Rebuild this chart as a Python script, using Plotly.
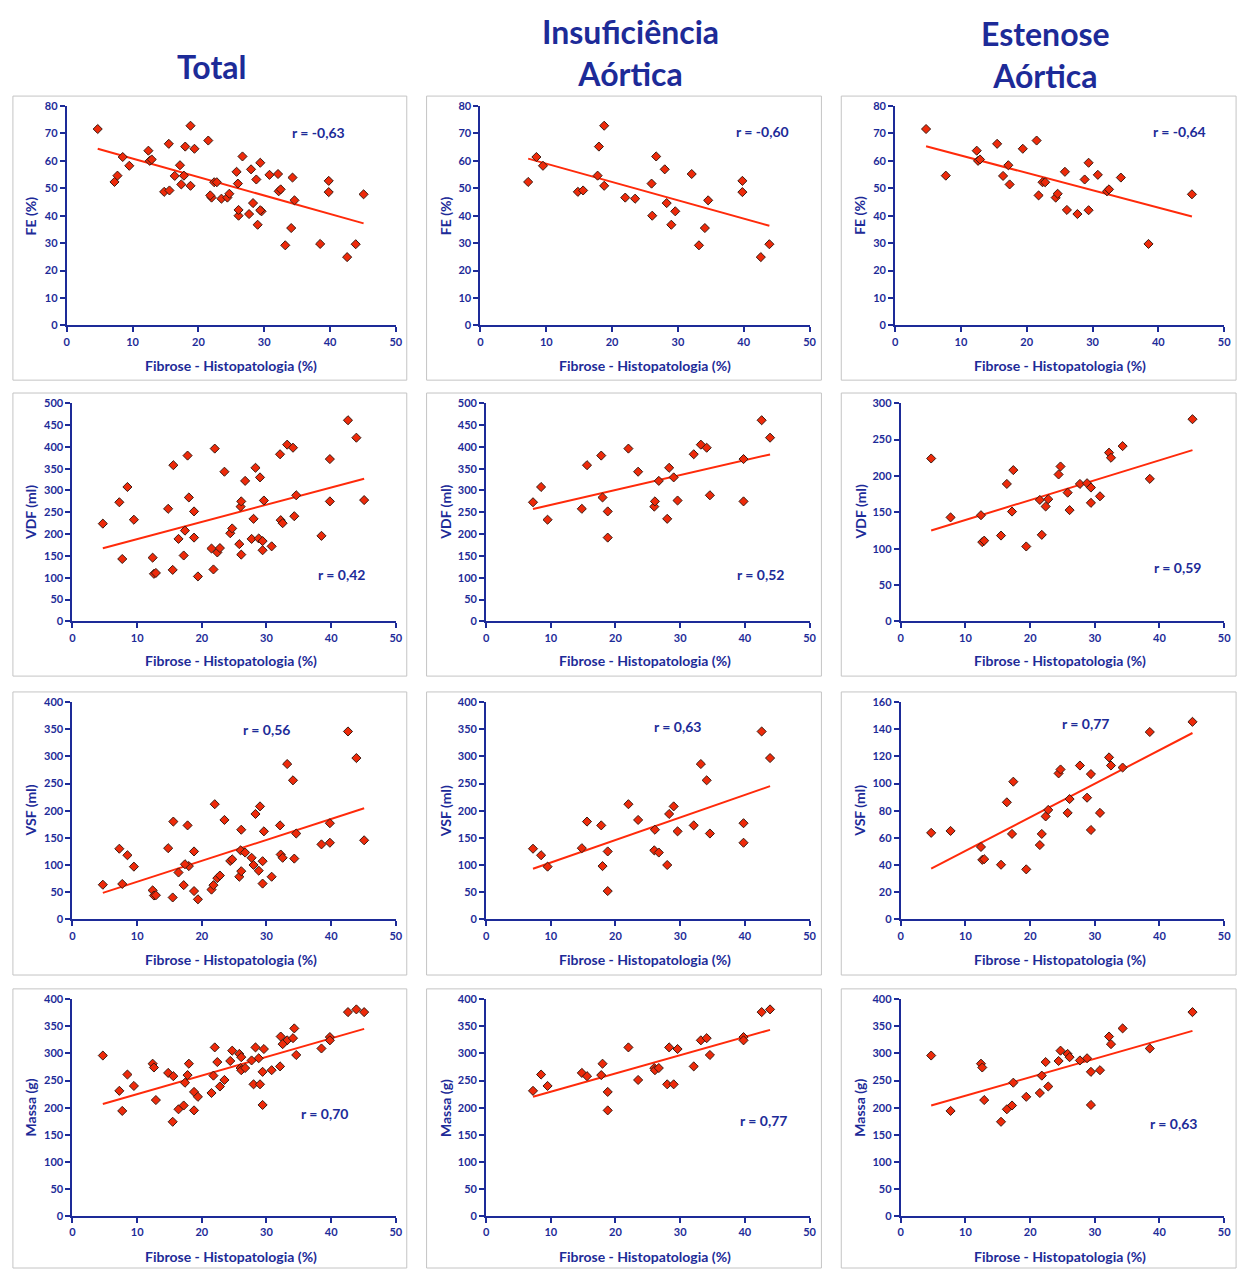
import numpy as np
import plotly.graph_objects as go

# ---------------- data ----------------
# Insuficiência Aórtica patients
ia_fib = [7.25, 8.5, 9.5, 14.8, 15.6, 17.8, 18.0, 18.8, 18.8, 22.0, 23.5, 26.0, 26.1, 26.7,
          28.0, 28.3, 29.0, 29.6, 32.1, 33.2, 34.1, 34.6, 39.8, 39.8, 42.6, 43.9]
ia_fe = [52.3, 61.4, 58.2, 48.7, 49.2, 54.6, 65.2, 72.8, 50.9, 46.6, 46.2, 51.7, 40.0, 61.6,
         56.9, 44.6, 36.7, 41.6, 55.2, 29.2, 35.5, 45.6, 52.7, 48.6, 24.9, 29.6]
ia_vdf = [273, 308, 233, 258, 358, 380, 284, 252, 192, 396, 343, 263, 275, 322,
          235, 352, 330, 277, 383, 405, 398, 289, 372, 275, 461, 421]
ia_vsf = [130, 118, 97, 131, 180, 173, 98, 125, 52, 212, 183, 127, 165, 123,
          100, 194, 208, 162, 173, 286, 256, 158, 177, 141, 346, 297]
ia_massa = [231, 261, 240, 264, 258, 260, 281, 229, 195, 311, 251, 273, 269, 273,
            243, 311, 243, 308, 276, 324, 328, 297, 330, 324, 376, 381]

# Estenose Aórtica patients
ea_fib = [4.7, 7.7, 12.4, 12.6, 12.9, 15.5, 16.4, 17.2, 17.4, 19.4, 21.5, 21.8, 22.4, 22.8,
          24.4, 24.7, 25.8, 26.1, 27.7, 28.8, 29.4, 29.4, 30.8, 32.2, 32.5, 34.3, 38.5, 45.1]
ea_fe = [71.6, 54.6, 63.7, 60.0, 60.5, 66.2, 54.5, 58.4, 51.4, 64.4, 67.4, 47.4, 52.2, 52.2,
         46.6, 48.0, 56.0, 42.1, 40.6, 53.2, 59.3, 42.0, 54.9, 48.9, 49.6, 53.9, 29.7, 47.8]
ea_vdf = [224, 143, 146, 109, 111, 118, 189, 151, 208, 103, 167, 119, 158, 168,
          202, 213, 177, 153, 189, 190, 184, 163, 172, 232, 225, 241, 196, 278]
ea_vsf = [63.7, 65.1, 53.3, 43.8, 44.3, 40.2, 86.2, 62.9, 101.4, 36.8, 54.7, 62.9, 75.8, 80.6,
          107.5, 110.4, 78.4, 88.6, 113.3, 89.6, 107.0, 65.8, 78.4, 119.3, 113.3, 111.8, 138.0, 145.5]
ea_massa = [296, 194, 281, 274, 214, 174, 197, 204, 246, 220, 227, 259, 284, 239,
            286, 305, 299, 293, 287, 291, 266, 205, 269, 331, 317, 346, 309, 376]

column_titles = ["Total", "Insuficiência<br>Aórtica", "Estenose<br>Aórtica"]
row_ylabels = ["FE (%)", "VDF (ml)", "VSF (ml)", "Massa (g)"]
x_label = "Fibrose - Histopatologia (%)"
r_labels = [["r = -0,63", "r = -0,60", "r = -0,64"],
            ["r = 0,42", "r = 0,52", "r = 0,59"],
            ["r = 0,56", "r = 0,63", "r = 0,77"],
            ["r = 0,70", "r = 0,77", "r = 0,63"]]
r_pos = [[(38.2, 70.3), (42.9, 70.6), (43.2, 70.6)],
         [(41.7, 108), (42.5, 108), (42.8, 74)],
         [(30.1, 349), (29.6, 355), (28.7, 144)],
         [(39.1, 189), (42.9, 176), (42.3, 171)]]
y_ranges = [[(0, 80, 10)] * 3,
            [(0, 500, 50), (0, 500, 50), (0, 300, 50)],
            [(0, 400, 50), (0, 400, 50), (0, 160, 20)],
            [(0, 400, 50)] * 3]

tot_fib = ia_fib + ea_fib
series = [
    [(tot_fib, ia_fe + ea_fe), (ia_fib, ia_fe), (ea_fib, ea_fe)],
    [(tot_fib, ia_vdf + ea_vdf), (ia_fib, ia_vdf), (ea_fib, ea_vdf)],
    [(tot_fib, ia_vsf + ea_vsf), (ia_fib, ia_vsf), (ea_fib, ea_vsf)],
    [(tot_fib, ia_massa + ea_massa), (ia_fib, ia_massa), (ea_fib, ea_massa)],
]

# ---------------- layout geometry (pixels) ----------------
W, H = 1253, 1275
BLUE = "#1d2b98"
FONT = "Lato"
col_x1 = [396, 813, 1231]
row_x0 = [[64.3, 481.3, 899.3], [70, 487, 905], [70, 487, 905], [70, 487, 905]]
row_y = [(100, 321.7), (400.3, 620.7), (702.3, 921.7), (1002.3, 1221.7)]
box_x = [(10, 407), (427, 825), (845, 1243)]
box_y = [(90, 377), (390, 676), (692, 978), (992, 1274)]
xtitle_y = [362, 660, 962, 1262]
xtitle_x = [230, 647, 1065]
ytitle_x = [28, 446, 864]


def fx(p):
    return p / W


def fy(p):
    return 1 - p / H


fig = go.Figure()
layout = dict(width=W, height=H, margin=dict(l=0, r=0, t=0, b=0),
              paper_bgcolor="white", plot_bgcolor="white", showlegend=False,
              font=dict(family=FONT, color=BLUE))
shapes = []
annotations = []

idx = 0
for r in range(4):
    for c in range(3):
        idx += 1
        sfx = "" if idx == 1 else str(idx)
        xa, ya = "x" + sfx, "y" + sfx
        x0, x1 = row_x0[r][c], col_x1[c]
        yt, yb = row_y[r]
        lo, hi, step = y_ranges[r][c]
        axis_common = dict(showline=True, linecolor=BLUE, linewidth=2, ticks="outside",
                           ticklen=5, tickwidth=2, tickcolor=BLUE, showgrid=False,
                           zeroline=False, tickfont=dict(family=FONT, size=11, color=BLUE))
        layout["xaxis" + sfx] = dict(domain=[fx(x0), fx(x1)], range=[0, 50], tickmode="linear",
                                     tick0=0, dtick=10, anchor=ya, **axis_common)
        layout["yaxis" + sfx] = dict(domain=[fy(yb), fy(yt)], range=[lo, hi], tickmode="linear",
                                     tick0=0, dtick=step, anchor=xa, **axis_common)
        xs, ys = series[r][c]
        # least squares trend line (as in the original spreadsheet)
        k, b = np.polyfit(np.array(xs, float), np.array(ys, float), 1)
        xl = np.array([min(xs), max(xs)])
        fig.add_trace(go.Scatter(x=xl, y=k * xl + b, mode="lines", xaxis=xa, yaxis=ya,
                                 line=dict(color="#ff2a0a", width=2), hoverinfo="skip"))
        fig.add_trace(go.Scatter(x=xs, y=ys, mode="markers", xaxis=xa, yaxis=ya,
                                 marker=dict(symbol="diamond", size=7, color="#ee2a0a",
                                             line=dict(color="#3a1a10", width=1))))
        rx, ry = r_pos[r][c]
        annotations.append(dict(x=rx, y=ry, xref=xa, yref=ya, text=r_labels[r][c],
                                showarrow=False, font=dict(family=FONT, size=14, color=BLUE),
                                xanchor="center", yanchor="middle"))
        # panel frame
        bx0, bx1 = box_x[c]
        by0, by1 = box_y[r]
        shapes.append(dict(type="rect", xref="paper", yref="paper", x0=fx(bx0), x1=fx(bx1),
                           y0=fy(by1), y1=fy(by0), line=dict(color="#c4c4c4", width=1),
                           layer="below"))
        # axis titles
        annotations.append(dict(x=fx(xtitle_x[c]), y=fy(xtitle_y[r]), xref="paper", yref="paper",
                                text="<b>" + x_label + "</b>", showarrow=False,
                                font=dict(family=FONT, size=14, color=BLUE),
                                xanchor="center", yanchor="middle"))
        annotations.append(dict(x=fx(ytitle_x[c]), y=fy((yt + yb) / 2), xref="paper", yref="paper",
                                text="<b>" + row_ylabels[r] + "</b>", showarrow=False, textangle=-90,
                                font=dict(family=FONT, size=14, color=BLUE),
                                xanchor="center", yanchor="middle"))

# make tick labels / r labels bold
for k in list(layout.keys()):
    if k.startswith("xaxis") or k.startswith("yaxis"):
        layout[k]["tickfont"]["weight"] = "bold"
for a in annotations:
    a["font"]["weight"] = "bold"

# column titles
title_pos = [(211, 60), (633, 46), (1051, 48)]
for t, (tx, ty) in zip(column_titles, title_pos):
    annotations.append(dict(x=fx(tx), y=fy(ty), xref="paper", yref="paper", text=t,
                            showarrow=False, xanchor="center", yanchor="middle",
                            font=dict(family=FONT, size=32, color=BLUE, weight="bold")))

layout["shapes"] = shapes
layout["annotations"] = annotations
fig.update_layout(**layout)
fig.write_html("out.html")
